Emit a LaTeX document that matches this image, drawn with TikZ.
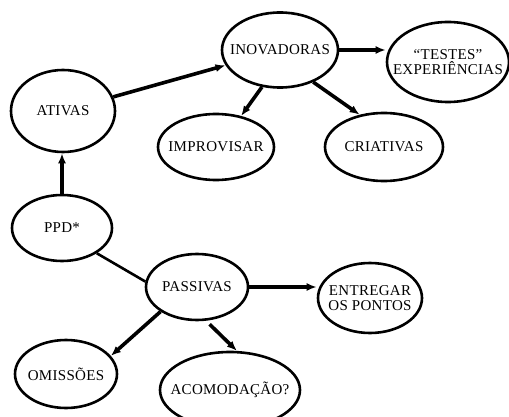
\documentclass[tikz,border=0pt]{standalone}
\usepackage{fontspec}
\setmainfont[LetterSpace=2]{Liberation Serif}
\usepackage{tikz}
\usetikzlibrary{shapes.geometric,arrows.meta}

\begin{document}
\begin{tikzpicture}[x=1pt, y=-1pt,
		bolha/.style={draw, ellipse, line width=2.6pt, inner sep=0pt},
		every label/.style={align=center, font=\fontsize{15}{15}\selectfont},
		seta/.style={line width=3.6pt, -{Latex[length=10pt,width=8pt]}},
		liga/.style={line width=2.6pt}]
				\clip (0, 0) rectangle (509, 417);
				
				\node[bolha, minimum width=116, minimum height=75, label=center:INOVADORAS] (Inovadoras) at (280, 50) {};
				\node[bolha, minimum width=122, minimum height=80, label=center:{``TESTES''\\EXPERIÊNCIAS}] (Testes) at (448, 62) {};
				\node[bolha, minimum width=104, minimum height=82, label=center:ATIVAS] (Ativas) at (63, 111) {};
				\node[bolha, minimum width=116, minimum height=66, label=center:IMPROVISAR] (Improvisar) at (216, 147) {};
				\node[bolha, minimum width=118, minimum height=68, label=center:CRIATIVAS] (Criativas) at (384, 147) {};
				
				\node[bolha, minimum width=100, minimum height=66, label=center:PPD*] (PPD) at (62, 228) {};
				\node[bolha, minimum width=102, minimum height=66, label=center:PASSIVAS] (Passivas) at (197, 287) {};
				\node[bolha, minimum width=104, minimum height=70, label=center:{ENTREGAR\\OS PONTOS}] (Entregar) at (370, 298) {};
				\node[bolha, minimum width=102, minimum height=68, label=center:OMISSÕES] (Omissoes) at (66, 374) {};
				\node[bolha, minimum width=140, minimum height=76, label=center:ACOMODAÇÃO?] (Acomodacao) at (230, 390) {};
				
				\draw[seta] (PPD.north) -- (PPD.north |- Ativas.south);
				\draw[seta] (Ativas) -- (Inovadoras);
				\draw[seta] (Inovadoras.east) -- (Inovadoras.east -| Testes.west);
				\draw[seta] (Inovadoras.244) -- (Improvisar.51);
				\draw[seta] (Inovadoras.316) -- (Criativas.127);
				
				\draw[liga] (PPD.-36) -- (Passivas.174);
				\draw[seta] (Passivas.east) -- (Passivas.east -| Entregar.west);
				\draw[seta] (Passivas.214) -- (Omissoes.22);
				\draw[seta, shorten <=5pt] (Passivas.-75) -- (Acomodacao.80);
			\end{tikzpicture}
\end{document}
